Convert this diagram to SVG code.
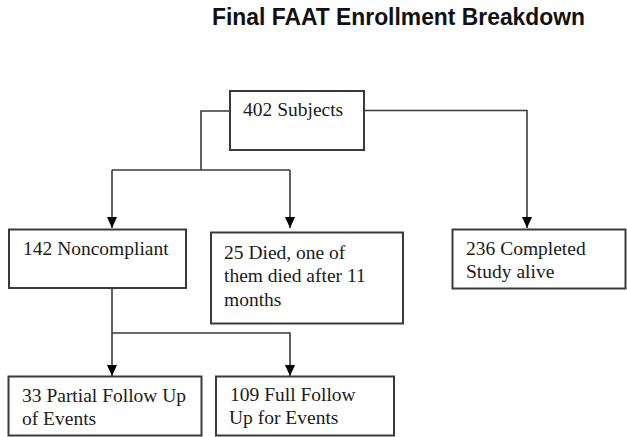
<svg xmlns="http://www.w3.org/2000/svg" width="627" height="437" viewBox="0 0 627 437">
<style>
.box{fill:#fff;stroke:#3a3a3a;stroke-width:2}
.t{font-family:"Liberation Serif","Times New Roman",serif;font-size:19.5px;fill:#1a1a1a}
.title{font-family:"Liberation Sans",Arial,sans-serif;font-size:23px;font-weight:bold;fill:#111}
.c{fill:none;stroke:#3a3a3a;stroke-width:1.6}
</style>
<defs>
<marker id="ah" viewBox="0 0 11 10" refX="11" refY="5" markerWidth="11" markerHeight="10" markerUnits="userSpaceOnUse" orient="auto">
<path d="M0,0 L11,5 L0,10 Z" fill="#000"/>
</marker>
</defs>
<rect width="627" height="437" fill="#fff"/>
<text class="title" x="212" y="25" textLength="373" lengthAdjust="spacingAndGlyphs">Final FAAT Enrollment Breakdown</text>
<g id="connectors">
<path class="c" d="M230,111 H201 V170"/>
<path class="c" d="M112,170 H290"/>
<path class="c" d="M112,170 V228" marker-end="url(#ah)"/>
<path class="c" d="M290,170 V228" marker-end="url(#ah)"/>
<path class="c" d="M364,110.5 H527 V228" marker-end="url(#ah)"/>
<path class="c" d="M112,288 V376" marker-end="url(#ah)"/>
<path class="c" d="M112,333 H290 V376" marker-end="url(#ah)"/>
</g>
<g id="n402">
<rect class="box" x="230" y="91" width="134" height="59"/>
<text class="t" x="243" y="116">402 Subjects</text>
</g>
<g id="n142">
<rect class="box" x="9" y="229.5" width="177" height="58.5"/>
<text class="t" x="23" y="255">142 Noncompliant</text>
</g>
<g id="n25">
<rect class="box" x="211" y="232.5" width="192" height="91"/>
<text class="t" x="224" y="258.5">25 Died, one of</text>
<text class="t" x="224" y="282">them died after 11</text>
<text class="t" x="224" y="305.5">months</text>
</g>
<g id="n236">
<rect class="box" x="452.5" y="229.5" width="173" height="59"/>
<text class="t" x="466" y="255">236 Completed</text>
<text class="t" x="466" y="277.5">Study alive</text>
</g>
<g id="n33">
<rect class="box" x="8.5" y="376.5" width="193" height="59"/>
<text class="t" x="22" y="401.5">33 Partial Follow Up</text>
<text class="t" x="22" y="425">of Events</text>
</g>
<g id="n109">
<rect class="box" x="216" y="376.5" width="178" height="59"/>
<text class="t" x="230" y="401">109 Full Follow</text>
<text class="t" x="229" y="424">Up for Events</text>
</g>
</svg>
